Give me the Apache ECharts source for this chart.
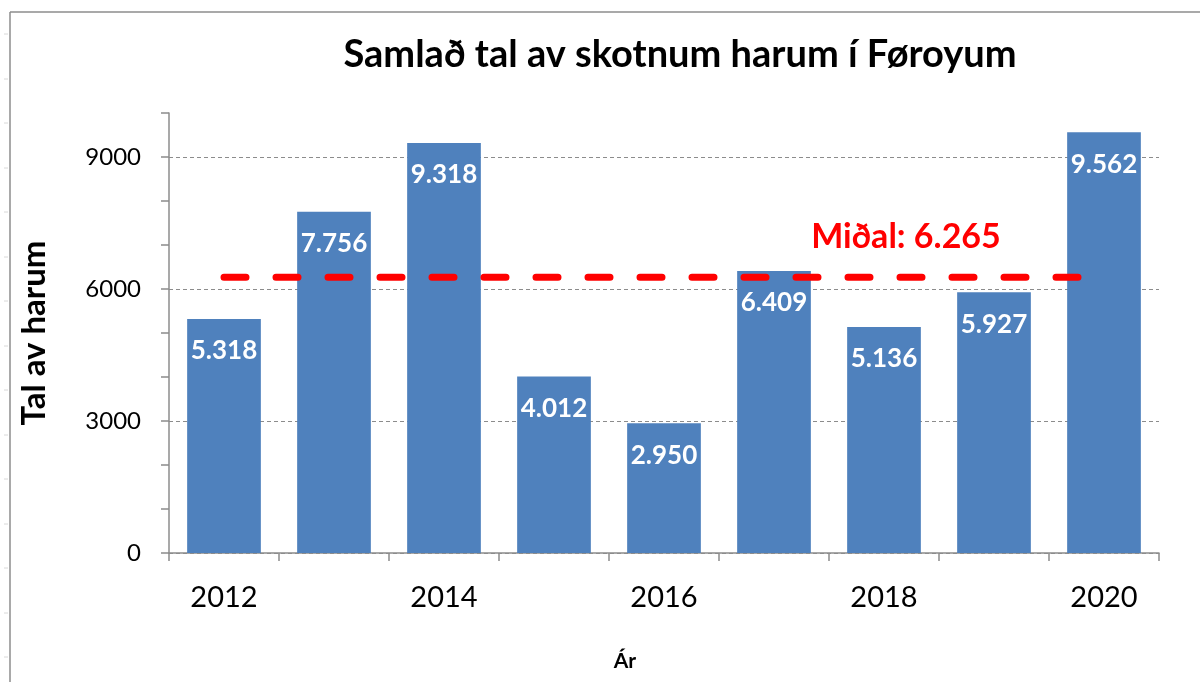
<!DOCTYPE html>
<html>
<head>
<meta charset="utf-8">
<script src="https://cdn.jsdelivr.net/npm/echarts@6/dist/echarts.min.js"></script>
<style>html,body{margin:0;padding:0;background:#fff}#c{width:1200px;height:682px}</style>
</head>
<body>
<div id="c"></div>
<script>
const titleText = 'Samlað tal av skotnum harum í Føroyum';
const years = ['2012','2013','2014','2015','2016','2017','2018','2019','2020'];
const harar = [5318, 7756, 9318, 4012, 2950, 6409, 5136, 5927, 9562];
const midal = 6265;
const yTickLabels = [0, 3000, 6000, 9000];
const yAxisName = 'Tal av harum';
const xAxisName = 'Ár';

const fmt = v => String(v).replace(/\B(?=(\d{3})+(?!\d))/g, '.');
const FONT = 'Lato';

const chart = echarts.init(document.getElementById('c'));
const edgeTicks = [];
for (let y = 34; y < 682; y += 44.5) {
  edgeTicks.push({type:'line', shape:{x1:4,y1:Math.round(y),x2:8,y2:Math.round(y)}, style:{stroke:'#d8d8d8', lineWidth:1}, silent:true});
}
chart.setOption({
  backgroundColor: '#fff',
  animation: false,
  title: {
    text: titleText, left: 675, top: 31, textAlign: 'center',
    textStyle: {fontFamily: FONT, fontWeight: 'bold', fontSize: 38, color: '#000'}
  },
  graphic: [
    {type:'line', shape:{x1:10,y1:12,x2:1200,y2:12}, style:{stroke:'#8c8c8c', lineWidth:1.5}, silent:true},
    {type:'line', shape:{x1:10,y1:12,x2:10,y2:682}, style:{stroke:'#8c8c8c', lineWidth:1.5}, silent:true}
  ].concat(edgeTicks),
  grid: {left: 169, right: 41, top: 113, bottom: 129},
  xAxis: {
    type: 'category', data: years,
    name: xAxisName, nameLocation: 'middle', nameGap: 98,
    nameTextStyle: {fontFamily: FONT, fontWeight: 'bold', fontSize: 21, color: '#000', padding: [0, 78, 0, 0]},
    axisLine: {lineStyle: {color: '#8c8c8c', width: 1.5}},
    axisTick: {show: true, interval: 0, length: 8, lineStyle: {color: '#8c8c8c', width: 1.5}},
    axisLabel: {interval: 1, margin: 30, fontFamily: FONT, fontSize: 29, color: '#000'}
  },
  yAxis: {
    type: 'value', min: 0, max: 10000, interval: 1000,
    name: yAxisName, nameLocation: 'middle', nameGap: 118, nameRotate: 90,
    nameTextStyle: {fontFamily: FONT, fontWeight: 'bold', fontSize: 33, color: '#000'},
    axisLine: {show: true, lineStyle: {color: '#8c8c8c', width: 1.5}},
    axisTick: {show: true, length: 8, lineStyle: {color: '#8c8c8c', width: 1.5}},
    axisLabel: {margin: 28, fontFamily: FONT, fontSize: 24, color: '#000',
      formatter: v => yTickLabels.includes(v) ? String(v) : ''},
    splitLine: {show: true, lineStyle: {color: ['#8c8c8c', 'rgba(0,0,0,0)', 'rgba(0,0,0,0)'], type: [4, 3], width: 1}}
  },
  series: [
    {
      type: 'bar', data: harar, barCategoryGap: '33%',
      itemStyle: {color: '#4F81BD'},
      label: {show: true, position: 'insideTop', distance: 19, formatter: p => fmt(p.value),
        fontFamily: FONT, fontWeight: 'bold', fontSize: 26, color: '#fff'},
      z: 2
    },
    {
      type: 'line', data: years.map(() => midal), symbol: 'none',
      lineStyle: {color: '#FF0000', width: 7, type: [22, 30], cap: 'round'},
      z: 5,
      markPoint: {
        symbol: 'circle', symbolSize: 0,
        data: [{coord: ['2018', midal]}],
        label: {show: true, formatter: 'Miðal: ' + fmt(midal), offset: [22, -40],
          fontFamily: FONT, fontWeight: 'bold', fontSize: 34, color: '#FF0000'}
      }
    }
  ]
});
</script>
</body>
</html>
